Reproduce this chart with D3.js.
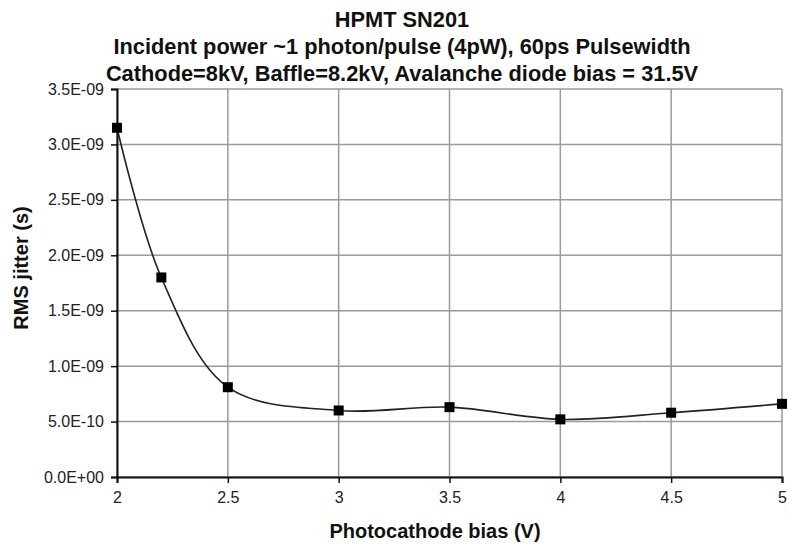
<!DOCTYPE html>
<html>
<head>
<meta charset="utf-8">
<script src="https://cdn.jsdelivr.net/npm/d3@7"></script>
<style>
  body { margin: 0; background: #fff; }
  text { font-family: "Liberation Sans", Arial, sans-serif; }
</style>
</head>
<body>
<div id="chart"></div>
<script>

// data
var titleLines = [
    "HPMT SN201",
    "Incident power ~1 photon/pulse (4pW), 60ps Pulsewidth",
    "Cathode=8kV, Baffle=8.2kV, Avalanche diode bias = 31.5V"
];
var biasV = [2, 2.2, 2.5, 3, 3.5, 4, 4.5, 5];
var jitter = [3.15e-9, 1.8e-9, 0.81e-9, 0.6e-9, 0.63e-9, 0.52e-9, 0.58e-9, 0.66e-9];
var xTicks = [2, 2.5, 3, 3.5, 4, 4.5, 5];
var xTickLabels = ["2", "2.5", "3", "3.5", "4", "4.5", "5"];
var yTicks = [0, 0.5e-9, 1e-9, 1.5e-9, 2e-9, 2.5e-9, 3e-9, 3.5e-9];
var yTickLabels = ["0.0E+00", "5.0E-10", "1.0E-09", "1.5E-09", "2.0E-09", "2.5E-09", "3.0E-09", "3.5E-09"];

var width = 787, height = 544;
var margin = {top: 89, right: 5, bottom: 67, left: 117};

var svg = d3.select("#chart")
    .append("svg")
    .attr("width", width)
    .attr("height", height);

var x = d3.scaleLinear()
    .domain([2, 5])
    .range([margin.left, width - margin.right]);

var y = d3.scaleLinear()
    .domain([0, 3.5e-9])
    .range([height - margin.bottom, margin.top]);

// gridlines
svg.append("g")
    .selectAll("line")
    .data(yTicks)
    .enter()
    .append("line")
    .attr("x1", x(2))
    .attr("x2", x(5))
    .attr("y1", function(d){ return y(d); })
    .attr("y2", function(d){ return y(d); })
    .attr("stroke", "#9a9a9a")
    .attr("stroke-width", 1.5);

svg.append("g")
    .selectAll("line")
    .data(xTicks)
    .enter()
    .append("line")
    .attr("x1", function(d){ return x(d); })
    .attr("x2", function(d){ return x(d); })
    .attr("y1", y(0))
    .attr("y2", y(3.5e-9))
    .attr("stroke", "#9a9a9a")
    .attr("stroke-width", 1.5);

// axes
var xAxis = d3.axisBottom(x)
    .tickValues(xTicks)
    .tickSize(6)
    .tickPadding(9)
    .tickFormat(function(d, i){ return xTickLabels[i]; });

var yAxis = d3.axisLeft(y)
    .tickValues(yTicks)
    .tickSize(6)
    .tickPadding(7)
    .tickFormat(function(d, i){ return yTickLabels[i]; });

var gx = svg.append("g")
    .attr("transform", "translate(0," + y(0) + ")")
    .call(xAxis);

var gy = svg.append("g")
    .attr("transform", "translate(" + x(2) + ",0)")
    .call(yAxis);

[gx, gy].forEach(function(g){
    g.select(".domain").attr("stroke", "#111").attr("stroke-width", 2);
    g.selectAll(".tick line").attr("stroke", "#111").attr("stroke-width", 1.5);
    g.selectAll(".tick text")
        .attr("font-family", "Liberation Sans, Arial, sans-serif")
        .attr("font-size", "16px")
        .attr("fill", "#222");
});

// smooth line like Excel
var line = d3.line()
    .x(function(d, i){ return x(biasV[i]); })
    .y(function(d){ return y(d); })
    .curve(d3.curveCatmullRom.alpha(0.5));

svg.append("path")
    .datum(jitter)
    .attr("d", line)
    .attr("fill", "none")
    .attr("stroke", "#222")
    .attr("stroke-width", 1.6);

svg.selectAll(".marker")
    .data(jitter)
    .enter()
    .append("rect")
    .attr("class", "marker")
    .attr("x", function(d, i){ return x(biasV[i]) - 5; })
    .attr("y", function(d){ return y(d) - 5; })
    .attr("width", 10)
    .attr("height", 10)
    .attr("fill", "#000");

// titles
svg.selectAll(".title")
    .data(titleLines)
    .enter()
    .append("text")
    .attr("class", "title")
    .attr("x", 402)
    .attr("y", function(d, i){ return 27 + i * 27; })
    .attr("text-anchor", "middle")
    .attr("font-size", "21.8px")
    .attr("font-weight", "bold")
    .attr("fill", "#111")
    .text(function(d){ return d; });

svg.append("text")
    .attr("x", 435)
    .attr("y", 538)
    .attr("text-anchor", "middle")
    .attr("font-size", "20px")
    .attr("font-weight", "bold")
    .attr("fill", "#111")
    .text("Photocathode bias (V)");

svg.append("text")
    .attr("transform", "translate(28,268) rotate(-90)")
    .attr("text-anchor", "middle")
    .attr("font-size", "20px")
    .attr("font-weight", "bold")
    .attr("fill", "#111")
    .text("RMS jitter (s)");

</script>
</body>
</html>
